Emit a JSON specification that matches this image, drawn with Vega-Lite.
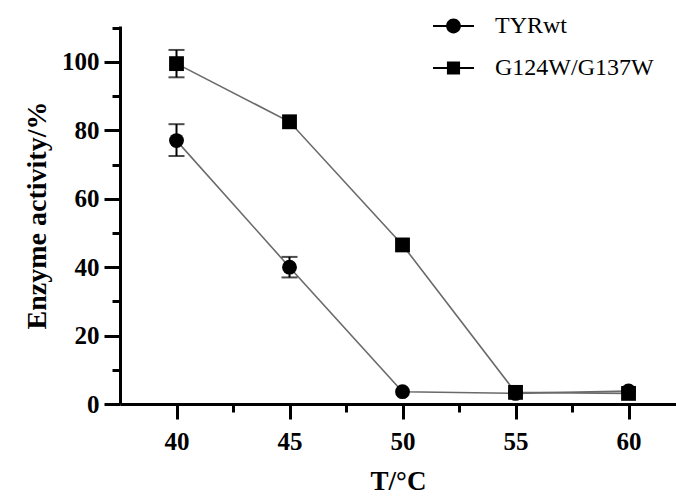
{
  "$schema": "https://vega.github.io/schema/vega-lite/v6.json",
  "autosize": {"type": "none"},
  "width": 556,
  "height": 378,
  "padding": {"left": 120, "top": 26, "right": 0, "bottom": 93},
  "background": "white",
  "config": {
    "view": {"stroke": null},
    "font": "Liberation Serif",
    "axis": {
      "grid": false,
      "domainColor": "black",
      "domainWidth": 3,
      "tickColor": "black",
      "tickWidth": 3,
      "labelColor": "black",
      "labelFont": "Liberation Serif",
      "labelFontWeight": "bold",
      "labelFontSize": 25,
      "titleColor": "black",
      "titleFont": "Liberation Serif",
      "titleFontWeight": "bold"
    }
  },
  "data": {
    "values": [
      {"T": 40, "activity": 77, "lo": 72.5, "hi": 81.8, "series": "TYRwt"},
      {"T": 45, "activity": 40, "lo": 37, "hi": 43, "series": "TYRwt"},
      {"T": 50, "activity": 3.6, "series": "TYRwt"},
      {"T": 55, "activity": 3.1, "series": "TYRwt"},
      {"T": 60, "activity": 3.8, "series": "TYRwt"},
      {"T": 40, "activity": 99.5, "lo": 95.5, "hi": 103.5, "series": "G124W/G137W"},
      {"T": 45, "activity": 82.5, "series": "G124W/G137W"},
      {"T": 50, "activity": 46.5, "series": "G124W/G137W"},
      {"T": 55, "activity": 3.4, "series": "G124W/G137W"},
      {"T": 60, "activity": 3.1, "series": "G124W/G137W"}
    ]
  },
  "resolve": {"axis": {"x": "independent", "y": "independent"}, "scale": {"shape": "independent"}},
  "layer": [
    {
      "mark": {"type": "line", "color": "#6a6a6a", "strokeWidth": 1.6},
      "encoding": {
        "x": {
          "field": "T", "type": "quantitative",
          "scale": {"domain": [37.5, 62.1], "nice": false, "zero": false},
          "axis": {
            "orient": "bottom",
            "values": [40, 45, 50, 55, 60],
            "tickSize": 15,
            "labelPadding": 10,
            "title": "T/°C",
            "titleFontSize": 27,
            "titlePadding": 14
          }
        },
        "y": {
          "field": "activity", "type": "quantitative",
          "scale": {"domain": [0, 110.5], "nice": false},
          "axis": {
            "orient": "left",
            "values": [0, 20, 40, 60, 80, 100],
            "tickSize": 16,
            "labelPadding": 5,
            "title": "Enzyme activity/%",
            "titleFontSize": 28,
            "titlePadding": 10
          }
        },
        "detail": {"field": "series"}
      }
    },
    {
      "transform": [{"filter": "isValid(datum.lo)"}],
      "mark": {"type": "errorbar", "color": "black", "thickness": 2, "ticks": {"size": 16, "thickness": 2, "color": "black"}, "rule": {"strokeWidth": 2, "color": "black"}},
      "encoding": {
        "x": {"field": "T", "type": "quantitative", "scale": {"domain": [37.5, 62.1], "nice": false, "zero": false}, "axis": null},
        "y": {"field": "lo", "type": "quantitative", "scale": {"domain": [0, 110.5], "nice": false}, "axis": null},
        "y2": {"field": "hi"}
      }
    },
    {
      "mark": {"type": "point", "filled": true, "color": "black", "opacity": 1, "size": 10},
      "encoding": {
        "x": {"field": "T", "type": "quantitative", "scale": {"domain": [37.5, 62.1], "nice": false, "zero": false}, "axis": null},
        "y": {"field": "activity", "type": "quantitative", "scale": {"domain": [0, 110.5], "nice": false}, "axis": null},
        "shape": {
          "field": "series", "type": "nominal",
          "scale": {"domain": ["TYRwt", "G124W/G137W"], "range": ["M-1,-0.05H1V0.05H-1ZM0.36,0A0.36,0.36,0,1,1,-0.36,0A0.36,0.36,0,1,1,0.36,0Z", "M-1,-0.05H1V0.05H-1ZM-0.32,-0.32H0.32V0.32H-0.32Z"]},
          "legend": {
            "title": null,
            "orient": "none",
            "legendX": 312,
            "legendY": -21.5,
            "padding": 0,
            "symbolSize": 1681,
            "symbolFillColor": "black",
            "labelFont": "Liberation Serif",
            "labelFontSize": 24,
            "labelColor": "black",
            "labelOffset": 20,
            "rowPadding": 8,
            "labelLimit": 300
          }
        }
      }
    },
    {
      "mark": {"type": "point", "filled": true, "color": "black", "opacity": 1, "size": 220},
      "encoding": {
        "x": {
          "field": "T", "type": "quantitative",
          "scale": {"domain": [37.5, 62.1], "nice": false, "zero": false},
          "axis": {"orient": "bottom", "values": [42.5, 47.5, 52.5, 57.5], "tickSize": 8, "labels": false, "domain": false, "title": null}
        },
        "y": {
          "field": "activity", "type": "quantitative",
          "scale": {"domain": [0, 110.5], "nice": false},
          "axis": {"orient": "left", "values": [10, 30, 50, 70, 90, 110], "tickSize": 8, "labels": false, "domain": false, "title": null}
        },
        "shape": {
          "field": "series", "type": "nominal",
          "scale": {"domain": ["TYRwt", "G124W/G137W"], "range": ["circle", "square"]},
          "legend": null
        }
      }
    }
  ]
}
